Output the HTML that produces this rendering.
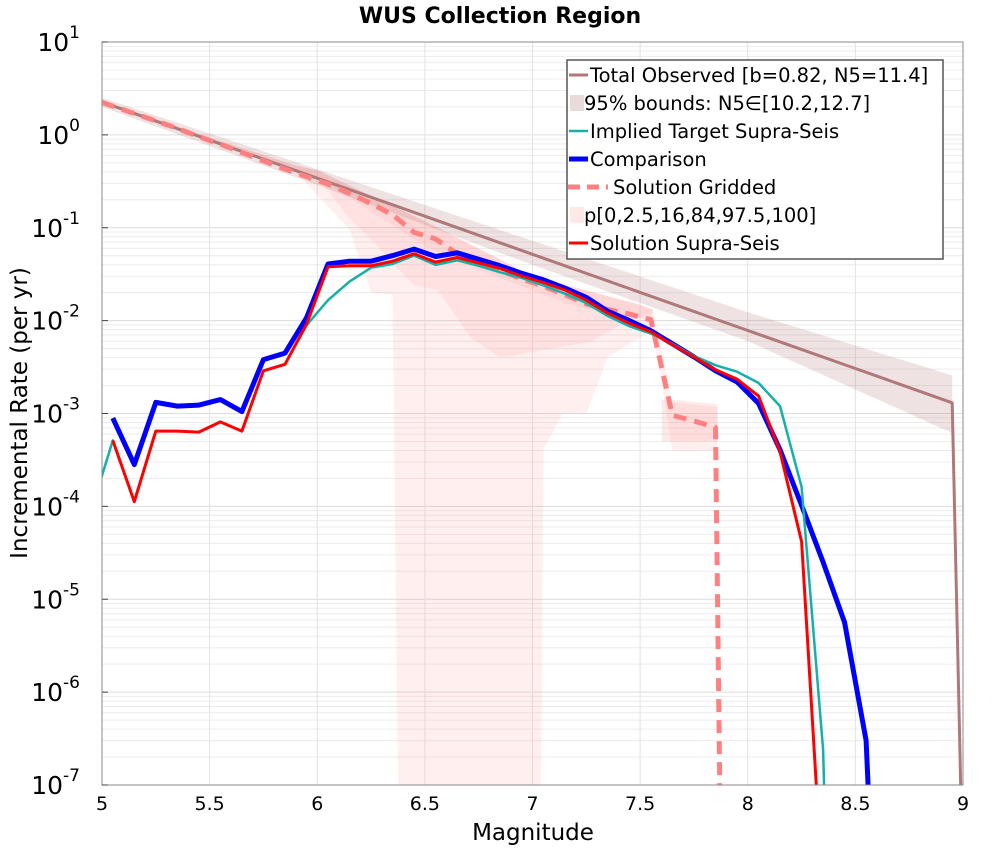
<!DOCTYPE html>
<html><head><meta charset="utf-8"><style>
body{margin:0;background:#fff;}
svg text{font-family:"DejaVu Sans","Liberation Sans",sans-serif;}
</style></head><body>
<svg id="chart" width="1000" height="850" xmlns="http://www.w3.org/2000/svg">
<text x="500" y="23" text-anchor="middle" font-size="22" font-weight="bold">WUS Collection Region</text>
<g id="grid"></g>
<g id="bands"></g>
<g id="series"></g>
<rect x="102" y="42" width="861" height="743" fill="none" stroke="#888" stroke-width="1"/>
<g id="axes"></g>
<text x="533" y="840" text-anchor="middle" font-size="23">Magnitude</text>
<text transform="translate(27,413) rotate(-90)" text-anchor="middle" font-size="23">Incremental Rate (per yr)</text>
<g id="legend"></g>
</svg>
<script>
const mags=[5.05,5.15,5.25,5.35,5.45,5.55,5.65,5.75,5.85,5.95,6.05,6.15,6.25,6.35,6.45,6.55,6.65,6.75,6.85,6.95,7.05,7.15,7.25,7.35,7.45,7.55,7.65,7.75,7.85,7.95,8.05,8.15,8.25,8.32];
const comparisonMags=[5.05,5.15,5.25,5.35,5.45,5.55,5.65,5.75,5.85,5.95,6.05,6.15,6.25,6.35,6.45,6.55,6.65,6.75,6.85,6.95,7.05,7.15,7.25,7.35,7.45,7.55,7.65,7.75,7.85,7.95,8.05,8.15,8.25,8.35,8.45,8.55,8.56];
const comparison=[-3.05,-3.55,-2.88,-2.92,-2.91,-2.85,-2.98,-2.42,-2.35,-1.97,-1.39,-1.36,-1.36,-1.30,-1.23,-1.31,-1.27,-1.34,-1.41,-1.49,-1.56,-1.65,-1.75,-1.90,-2.00,-2.11,-2.25,-2.39,-2.54,-2.66,-2.89,-3.39,-3.99,-4.60,-5.25,-6.52,-10];
const supraSeis=[-3.29,-3.95,-3.19,-3.19,-3.20,-3.09,-3.19,-2.54,-2.47,-2.04,-1.42,-1.41,-1.41,-1.36,-1.28,-1.37,-1.32,-1.38,-1.44,-1.52,-1.59,-1.67,-1.78,-1.92,-2.03,-2.12,-2.26,-2.39,-2.53,-2.63,-2.81,-3.41,-4.38,-10];
const targetMags=[4.95,5.05,5.15,5.25,5.35,5.45,5.55,5.65,5.75,5.85,5.95,6.05,6.15,6.25,6.35,6.45,6.55,6.65,6.75,6.85,6.95,7.05,7.15,7.25,7.35,7.45,7.55,7.65,7.75,7.85,7.95,8.05,8.15,8.25,8.35,8.355];
const target=[-4.05,-3.29,-3.95,-3.19,-3.19,-3.20,-3.09,-3.19,-2.54,-2.47,-2.05,-1.78,-1.58,-1.43,-1.39,-1.30,-1.40,-1.35,-1.41,-1.48,-1.54,-1.62,-1.71,-1.81,-1.95,-2.06,-2.14,-2.25,-2.38,-2.48,-2.55,-2.67,-2.92,-3.79,-6.62,-10];
const griddedMags=[5.0,5.05,5.15,5.25,5.35,5.45,5.55,5.65,5.75,5.85,5.95,6.05,6.15,6.25,6.35,6.45,6.55,6.65,6.75,6.85,6.95,7.05,7.15,7.25,7.35,7.45,7.55,7.65,7.75,7.85,7.87];
const gridded=[0.35,0.31,0.23,0.15,0.07,-0.02,-0.10,-0.19,-0.28,-0.37,-0.45,-0.53,-0.63,-0.74,-0.86,-1.05,-1.12,-1.28,-1.37,-1.46,-1.55,-1.63,-1.72,-1.82,-1.88,-1.93,-1.99,-3.02,-3.08,-3.15,-10];
const totalMags=[5.0,5.5,6.0,6.5,7.0,7.5,8.0,8.5,8.95,8.99];
const totalObs=[0.354,-0.056,-0.466,-0.876,-1.286,-1.696,-2.106,-2.516,-2.885,-10];
const boundMags=[5.0,6.0,7.0,8.0,8.95];
const boundHigh=[0.40,-0.37,-1.14,-1.91,-2.59];
const boundLow=[0.30,-0.54,-1.40,-2.22,-3.21];
const outerUpMags=[5.0,5.5,5.9,6.0,6.5,7.0,7.5,7.56,7.65,7.86];
const outerUp=[0.37,-0.03,-0.33,-0.38,-0.93,-1.52,-1.83,-1.88,-2.88,-2.93];
const outerLowMags=[7.86,7.86,7.65,7.56,7.35,7.25,7.14,7.05,7.04,6.375,6.35,6.25,6.15,5.9];
const outerLow=[-10,-3.40,-3.40,-2.10,-2.39,-3.00,-3.00,-3.39,-10,-10,-1.72,-1.70,-1.02,-0.40];
const midLowMags=[7.555,7.42,7.27,7.14,6.85,6.71,6.56,6.45,6.25,6.15,6.0,5.9];
const midLow=[-1.92,-2.03,-2.23,-2.28,-2.40,-2.18,-1.67,-1.62,-1.13,-0.90,-0.45,-0.38];
const innerLowMags=[7.555,7.2,6.8,6.5,6.0,5.9];
const innerLow=[-2.00,-1.85,-1.50,-1.20,-0.45,-0.37];
const yTickExp=[1,0,-1,-2,-3,-4,-5,-6,-7];
const xTicks=["5","5.5","6","6.5","7","7.5","8","8.5","9"];

const X0=102,X1=963,Y0=42,Y1=785;
const xs=m=>X0+(m-5)*(X1-X0)/4;
const ys=l=>Y0+(1-l)*(Y1-Y0)/8;
const NS="http://www.w3.org/2000/svg";
function mk(tag,attrs,parent){const e=document.createElementNS(NS,tag);for(const k in attrs)e.setAttribute(k,attrs[k]);parent.appendChild(e);return e;}
const grid=document.getElementById('grid'),axes=document.getElementById('axes'),bands=document.getElementById('bands'),series=document.getElementById('series'),legend=document.getElementById('legend');
for(let e=-7;e<1;e++){for(let k=1;k<10;k++){const l=e+Math.log10(k);const g=mk('line',{x1:X0,x2:X1,y1:ys(l),y2:ys(l),stroke:k==1?'#dcdcdc':'#ececec','stroke-width':1},grid);}}
xTicks.forEach(t=>{const x=xs(parseFloat(t));const g=mk('line',{x1:x,x2:x,y1:Y0,y2:Y1,stroke:'#e2e2e2','stroke-width':1},grid);
const tx=mk('text',{x:x,y:810,'text-anchor':'middle','font-size':19},axes);tx.textContent=t;});
yTickExp.forEach(e=>{const y=ys(e);const tk=mk('line',{x1:X0,x2:X0+6,y1:y,y2:y,stroke:'#444'},axes);
const tx=mk('text',{x:80,y:y+9,'text-anchor':'end','font-size':25},axes);
tx.innerHTML='10<tspan dy="-13" font-size="17">'+e+'</tspan>';});
function pts(ms,vs){return ms.map((m,i)=>xs(m).toFixed(1)+','+Math.min(ys(vs[i]),Y1+5).toFixed(1)).join(' ');}
function poly(ms1,v1,ms2,v2,fill,name){const p=mk('polygon',{points:pts(ms1,v1)+' '+pts(ms2,v2),fill:fill},bands);}
const clip=mk('clipPath',{id:'pc'},document.getElementById('chart'));mk('rect',{x:X0,y:Y0,width:X1-X0,height:Y1-Y0},clip);
bands.setAttribute('clip-path','url(#pc)');series.setAttribute('clip-path','url(#pc)');
poly(outerUpMags,outerUp,outerLowMags,outerLow,'rgba(255,140,140,0.14)','band-p0-100');
poly(outerUpMags.slice(0,8),outerUp.slice(0,8),midLowMags,midLow,'rgba(255,140,140,0.14)','band-p2.5-97.5');
poly(outerUpMags.slice(0,8),outerUp.slice(0,8),innerLowMags,innerLow,'rgba(255,140,140,0.12)','band-p16-84');
poly([7.60,7.65,7.86],[-2.85,-2.85,-2.9],[7.86,7.65,7.60],[-3.3,-3.3,-3.3],'rgba(255,140,140,0.18)','band-high-mag');
poly(boundMags,boundHigh,boundMags.slice().reverse(),boundLow.slice().reverse(),'rgba(170,110,110,0.2)','total-bounds-band');
function line(ms,vs,stroke,w,name,dash){const a={points:pts(ms,vs),fill:'none',stroke:stroke,'stroke-width':w,'stroke-linejoin':'round'};if(dash)a['stroke-dasharray']=dash;const l=mk('polyline',a,series);}
line(totalMags,totalObs,'#b07878',3,'total-observed-line');
line(griddedMags,gridded,'#ff8080',5,'solution-gridded-line','13,8');
line(comparisonMags,comparison,'#0000ff',5,'comparison-line');
line(targetMags,target,'#14b0aa',2.5,'implied-target-line');
line(mags,supraSeis,'#ff0000',3,'solution-supra-seis-line');
const lb=mk('rect',{x:567,y:60,width:376,height:199,fill:'#fff',stroke:'#555','stroke-width':1.5},legend);
const entries=[['Total Observed [b=0.82, N5=11.4]','line','#b07878',3],['95% bounds: N5∈[10.2,12.7]','patch','rgba(170,110,110,0.25)',0],['Implied Target Supra-Seis','line','#14b0aa',2.5],['Comparison','line','#0000ff',5],['Solution Gridded','dash','#ff8080',5],['p[0,2.5,16,84,97.5,100]','patch','rgba(255,140,140,0.2)',0],['Solution Supra-Seis','line','#ff0000',3]];
entries.forEach((en,i)=>{const y=75+i*28;const g=mk('g',{},legend);
if(en[1]=='patch'){mk('rect',{x:570,y:y-8,width:14,height:16,fill:en[2]},g);}
else{const a={x1:569,x2:en[1]=='dash'?608:588,y1:y,y2:y,stroke:en[2],'stroke-width':en[3]};if(en[1]=='dash'){a['stroke-dasharray']='12,7';a.x1=568;}mk('line',a,g);}
const t=mk('text',{x:en[1]=='dash'?613:(en[1]=='patch'?584:590),y:y+7,'font-size':19.5},g);t.textContent=en[0];});
</script>
</body></html>
